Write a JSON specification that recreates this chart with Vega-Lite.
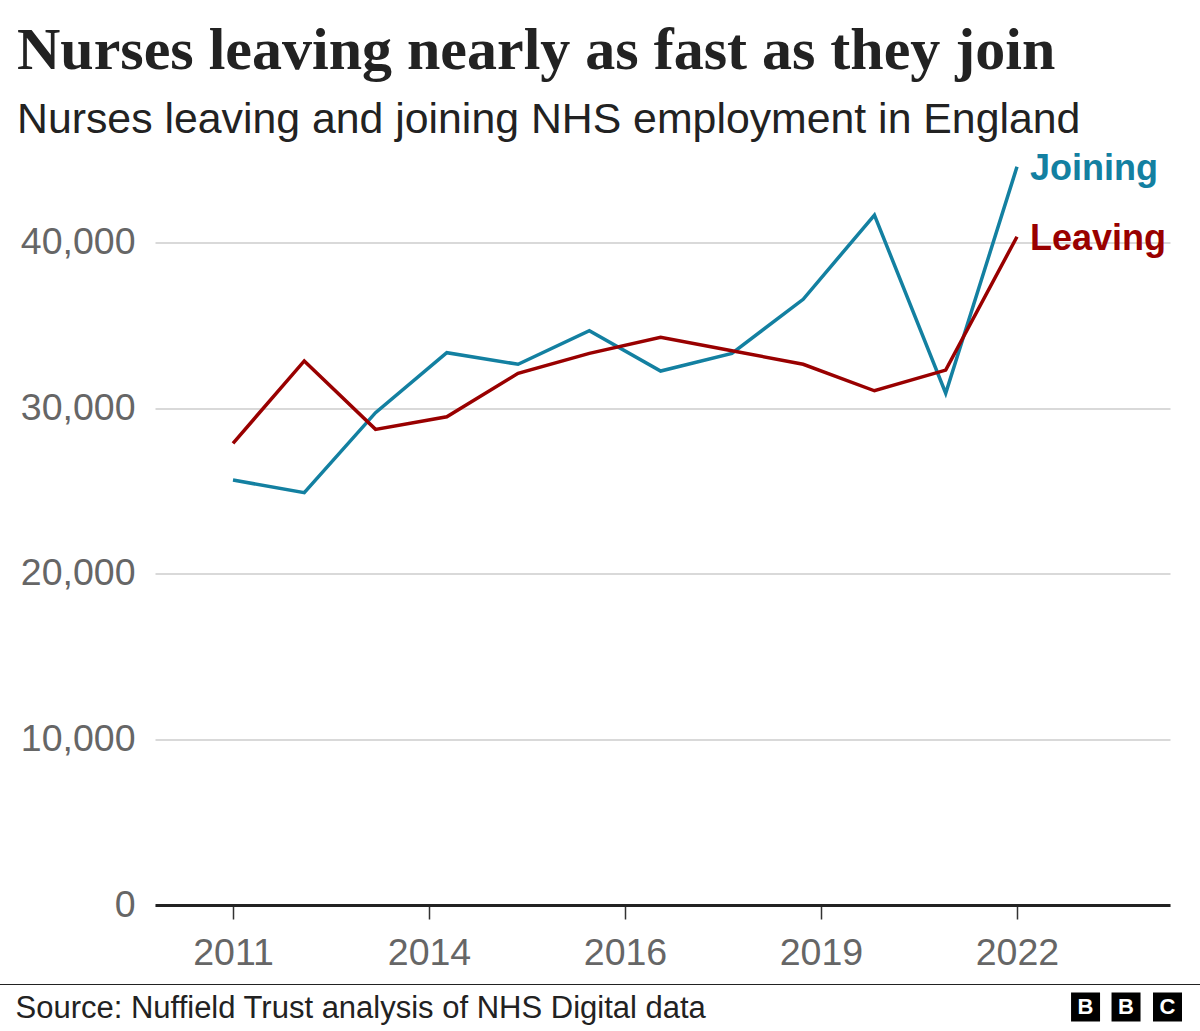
{
  "$schema": "https://vega.github.io/schema/vega-lite/v6.json",
  "width": 1015,
  "height": 745.5,
  "autosize": "none",
  "padding": {"left": 155, "top": 159.5, "right": 30, "bottom": 126},
  "background": "#ffffff",
  "title": {
    "text": "Nurses leaving nearly as fast as they join",
    "subtitle": "Nurses leaving and joining NHS employment in England",
    "anchor": "start",
    "frame": "group",
    "dx": -138,
    "offset": 8,
    "font": "Liberation Serif",
    "fontSize": 60,
    "fontWeight": "bold",
    "color": "#222222",
    "subtitleFont": "Liberation Sans",
    "subtitleFontSize": 42.8,
    "subtitleColor": "#222222",
    "subtitlePadding": 17
  },
  "config": {
    "view": {"stroke": null},
    "axis": {"labelFont": "Liberation Sans", "titleFont": "Liberation Sans"}
  },
  "data": {
    "values": [
      {"year": 2011, "series": "Joining", "value": 25650},
      {"year": 2012, "series": "Joining", "value": 24890},
      {"year": 2013, "series": "Joining", "value": 29720},
      {"year": 2014, "series": "Joining", "value": 33340},
      {"year": 2015, "series": "Joining", "value": 32640},
      {"year": 2016, "series": "Joining", "value": 34670},
      {"year": 2017, "series": "Joining", "value": 32230},
      {"year": 2018, "series": "Joining", "value": 33300},
      {"year": 2019, "series": "Joining", "value": 36560},
      {"year": 2020, "series": "Joining", "value": 41650},
      {"year": 2021, "series": "Joining", "value": 30890},
      {"year": 2022, "series": "Joining", "value": 44560},
      {"year": 2011, "series": "Leaving", "value": 27870},
      {"year": 2012, "series": "Leaving", "value": 32840},
      {"year": 2013, "series": "Leaving", "value": 28710},
      {"year": 2014, "series": "Leaving", "value": 29470},
      {"year": 2015, "series": "Leaving", "value": 32090},
      {"year": 2016, "series": "Leaving", "value": 33300},
      {"year": 2017, "series": "Leaving", "value": 34270},
      {"year": 2018, "series": "Leaving", "value": 33460},
      {"year": 2019, "series": "Leaving", "value": 32640},
      {"year": 2020, "series": "Leaving", "value": 31040},
      {"year": 2021, "series": "Leaving", "value": 32290},
      {"year": 2022, "series": "Leaving", "value": 40340}
    ]
  },
  "layer": [
    {
      "mark": {"type": "line", "strokeWidth": 3.5, "clip": false},
      "encoding": {
        "x": {
          "field": "year",
          "type": "quantitative",
          "scale": {"domain": [2009.9056, 2024.147], "nice": false, "zero": false},
          "axis": {
            "values": [2011, 2013.75, 2016.5, 2019.25, 2022],
            "labelExpr": "datum.value == 2011 ? '2011' : datum.value == 2013.75 ? '2014' : datum.value == 2016.5 ? '2016' : datum.value == 2019.25 ? '2019' : '2022'",
            "grid": false,
            "zindex": 1,
            "domainColor": "#222222",
            "domainWidth": 3,
            "tickColor": "#333333",
            "tickWidth": 1.5,
            "tickSize": 14,
            "labelFontSize": 37.5,
            "labelColor": "#666666",
            "labelPadding": 15,
            "labelFlush": false,
            "labelOverlap": false,
            "title": "Source: Nuffield Trust analysis of NHS Digital data",
            "titleFontSize": 31,
            "titleFontWeight": "normal",
            "titleColor": "#222222",
            "titleAlign": "left",
            "titleBaseline": "alphabetic",
            "titleX": -140,
            "titleY": 112
          }
        },
        "y": {
          "field": "value",
          "type": "quantitative",
          "scale": {"domain": [0, 45000], "nice": false},
          "axis": {
            "values": [0, 10000, 20000, 30000, 40000],
            "format": ",.0f",
            "domain": false,
            "ticks": false,
            "gridColor": "#cccccc",
            "gridWidth": 1.3,
            "labelFontSize": 37.5,
            "labelColor": "#666666",
            "labelPadding": 20,
            "title": null
          }
        },
        "color": {
          "field": "series",
          "type": "nominal",
          "scale": {"domain": ["Joining", "Leaving"], "range": ["#1380A1", "#990000"]},
          "legend": null
        }
      }
    },
    {
      "transform": [{"filter": "datum.year == 2022"}],
      "mark": {"type": "text", "align": "left", "baseline": "middle", "dx": 13, "dy": 2, "font": "Liberation Sans", "fontSize": 36, "fontWeight": "bold", "clip": false},
      "encoding": {
        "x": {"field": "year", "type": "quantitative"},
        "y": {"field": "value", "type": "quantitative"},
        "text": {"field": "series"},
        "color": {"field": "series", "type": "nominal", "legend": null}
      }
    },
    {
      "data": {"values": [{}]},
      "mark": {"type": "rule", "color": "#222222", "strokeWidth": 1.2, "clip": false},
      "encoding": {
        "x": {"datum": 2007.7307, "type": "quantitative"},
        "x2": {"datum": 2024.568},
        "y": {"datum": -4800, "type": "quantitative"}
      }
    },
    {
      "data": {"values": [{}]},
      "mark": {"type": "point", "shape": "square", "filled": true, "size": 841, "color": "#000000", "opacity": 1, "clip": false},
      "encoding": {
        "x": {"datum": 2022.962, "type": "quantitative"},
        "y": {"datum": -6157, "type": "quantitative"}
      }
    },
    {
      "data": {"values": [{}]},
      "mark": {"type": "point", "shape": "square", "filled": true, "size": 841, "color": "#000000", "opacity": 1, "clip": false},
      "encoding": {
        "x": {"datum": 2023.53, "type": "quantitative"},
        "y": {"datum": -6157, "type": "quantitative"}
      }
    },
    {
      "data": {"values": [{}]},
      "mark": {"type": "point", "shape": "square", "filled": true, "size": 841, "color": "#000000", "opacity": 1, "clip": false},
      "encoding": {
        "x": {"datum": 2024.112, "type": "quantitative"},
        "y": {"datum": -6157, "type": "quantitative"}
      }
    },
    {
      "data": {"values": [{}]},
      "mark": {"type": "text", "text": "B", "font": "Liberation Sans", "fontSize": 22, "fontWeight": "bold", "color": "#ffffff", "align": "center", "baseline": "middle", "clip": false},
      "encoding": {
        "x": {"datum": 2022.962, "type": "quantitative"},
        "y": {"datum": -6157, "type": "quantitative"}
      }
    },
    {
      "data": {"values": [{}]},
      "mark": {"type": "text", "text": "B", "font": "Liberation Sans", "fontSize": 22, "fontWeight": "bold", "color": "#ffffff", "align": "center", "baseline": "middle", "clip": false},
      "encoding": {
        "x": {"datum": 2023.53, "type": "quantitative"},
        "y": {"datum": -6157, "type": "quantitative"}
      }
    },
    {
      "data": {"values": [{}]},
      "mark": {"type": "text", "text": "C", "font": "Liberation Sans", "fontSize": 22, "fontWeight": "bold", "color": "#ffffff", "align": "center", "baseline": "middle", "clip": false},
      "encoding": {
        "x": {"datum": 2024.112, "type": "quantitative"},
        "y": {"datum": -6157, "type": "quantitative"}
      }
    }
  ]
}
